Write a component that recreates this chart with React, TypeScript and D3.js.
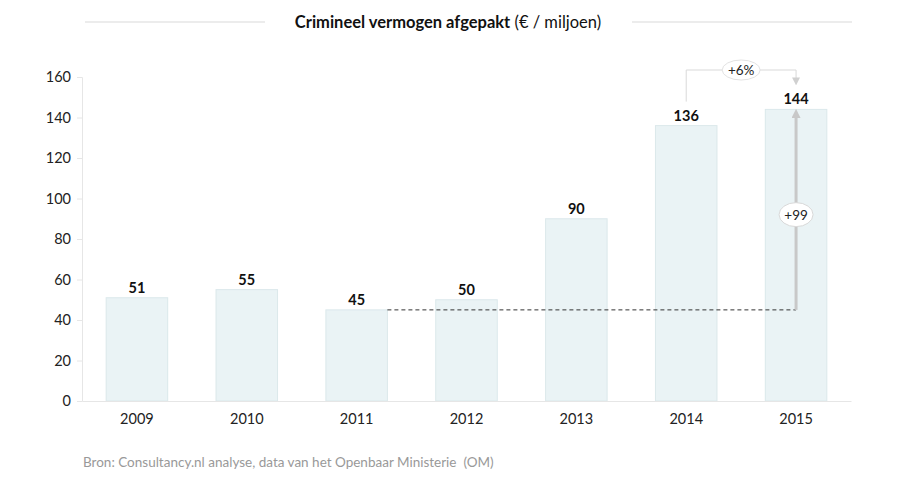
import { useEffect, useRef } from 'react';
import * as d3 from 'd3';

const years = ['2009', '2010', '2011', '2012', '2013', '2014', '2015'];
const values = [51, 55, 45, 50, 90, 136, 144];
const yTicks = [0, 20, 40, 60, 80, 100, 120, 140, 160];

const FONT = 'Lato, "Open Sans", sans-serif';

export default function App() {
  const svgRef = useRef<SVGSVGElement>(null);

  useEffect(() => {
    if (!svgRef.current) return;
    const width = 900;
    const height = 486;

    d3.select(svgRef.current).selectAll('*').remove();
    const svg = d3.select(svgRef.current)
      .attr('width', width)
      .attr('height', height)
      .attr('viewBox', `0 0 ${width} ${height}`)
      .style('font-family', FONT);

    const x = d3.scaleBand<string>()
      .domain(years)
      .range([82, 851])
      .paddingInner(0.44)
      .paddingOuter(0.22);

    const y = d3.scaleLinear().domain([0, 160]).range([401, 77]);

    const defs = svg.append('defs');
    defs.append('marker')
      .attr('id', 'arrow')
      .attr('viewBox', '0 0 10 10')
      .attr('refX', 5)
      .attr('refY', 5)
      .attr('markerWidth', 3)
      .attr('markerHeight', 3)
      .attr('orient', 'auto-start-reverse')
      .append('path')
      .attr('d', 'M0,0 L10,5 L0,10 z')
      .attr('fill', '#c8c8c8');
    defs.append('marker')
      .attr('id', 'arrowSmall')
      .attr('viewBox', '0 0 10 10')
      .attr('refX', 5)
      .attr('refY', 5)
      .attr('markerWidth', 8)
      .attr('markerHeight', 8)
      .attr('orient', 'auto')
      .append('path')
      .attr('d', 'M0,0 L10,5 L0,10 z')
      .attr('fill', '#d0d0d0');

    // title
    svg.append('line').attr('x1', 85).attr('x2', 265).attr('y1', 22).attr('y2', 22)
      .attr('stroke', '#d9d9d9').attr('stroke-width', 1);
    svg.append('line').attr('x1', 632).attr('x2', 852).attr('y1', 22).attr('y2', 22)
      .attr('stroke', '#d9d9d9').attr('stroke-width', 1);
    const title = svg.append('text')
      .attr('x', 448)
      .attr('y', 28)
      .attr('text-anchor', 'middle')
      .attr('font-size', 16.5)
      .attr('fill', '#111');
    title.append('tspan').attr('font-weight', 'bold').text('Crimineel vermogen afgepakt');
    title.append('tspan').text(' (€ / miljoen)');

    // y axis
    const yAxis = svg.append('g')
      .attr('transform', `translate(82,0)`)
      .call(d3.axisLeft(y).tickValues(yTicks).tickSize(5).tickPadding(6));
    yAxis.select('.domain').attr('stroke', '#e6e6e6');
    yAxis.selectAll('.tick line').attr('stroke', '#e6e6e6');
    yAxis.selectAll('.tick text')
      .attr('font-size', 14.5)
      .attr('font-family', FONT)
      .attr('fill', '#222');

    // bars
    svg.append('g')
      .selectAll('rect')
      .data(values)
      .enter()
      .append('rect')
      .attr('x', (_, i) => x(years[i])!)
      .attr('y', (d) => y(d))
      .attr('width', x.bandwidth())
      .attr('height', (d) => y(0) - y(d))
      .attr('fill', '#eaf3f5')
      .attr('stroke', '#dbe8eb')
      .attr('stroke-width', 1);

    // x axis
    const xAxis = svg.append('g')
      .attr('transform', `translate(0,${y(0)})`)
      .call(d3.axisBottom(x).tickSize(0).tickPadding(13));
    xAxis.select('.domain').attr('stroke', '#e6e6e6');
    xAxis.selectAll('.tick text')
      .attr('font-size', 14.5)
      .attr('font-family', FONT)
      .attr('fill', '#222');

    // value labels
    svg.append('g')
      .selectAll('text')
      .data(values)
      .enter()
      .append('text')
      .attr('x', (_, i) => x(years[i])! + x.bandwidth() / 2)
      .attr('y', (d) => y(d) - 5)
      .attr('text-anchor', 'middle')
      .attr('font-size', 14.5)
      .attr('font-weight', 'bold')
      .attr('fill', '#111')
      .text((d) => d);

    // dashed baseline from 2011 to 2015
    const i11 = 2;
    const i15 = 6;
    const i14 = 5;
    const cx15 = x(years[i15])! + x.bandwidth() / 2;
    const cx14 = x(years[i14])! + x.bandwidth() / 2;
    svg.append('line')
      .attr('x1', x(years[i11])! + x.bandwidth())
      .attr('x2', cx15)
      .attr('y1', y(values[i11]))
      .attr('y2', y(values[i11]))
      .attr('stroke', '#333')
      .attr('stroke-width', 1)
      .attr('stroke-dasharray', '4,3');

    // vertical difference arrow
    svg.append('line')
      .attr('x1', cx15)
      .attr('x2', cx15)
      .attr('y1', y(values[i11]))
      .attr('y2', y(values[i15]) + 4)
      .attr('stroke', '#c8c8c8')
      .attr('stroke-width', 3)
      .attr('marker-end', 'url(#arrow)');
    const midY = (y(values[i11]) + y(values[i15])) / 2 + 5;
    svg.append('ellipse')
      .attr('cx', cx15)
      .attr('cy', midY)
      .attr('rx', 17)
      .attr('ry', 12)
      .attr('fill', '#fff')
      .attr('stroke', '#d9d9d9');
    svg.append('text')
      .attr('x', cx15)
      .attr('y', midY + 5)
      .attr('text-anchor', 'middle')
      .attr('font-size', 13.5)
      .attr('fill', '#222')
      .text(`+${values[i15] - values[i11]}`);

    // +6% bracket
    const topY = 70;
    svg.append('path')
      .attr('d', `M${cx14},${y(values[i14]) - 24} V${topY} H${cx15} V${y(values[i15]) - 28}`)
      .attr('fill', 'none')
      .attr('stroke', '#d9d9d9')
      .attr('stroke-width', 1)
      .attr('marker-end', 'url(#arrowSmall)');
    const pct = Math.round((values[i15] / values[i14] - 1) * 100);
    svg.append('ellipse')
      .attr('cx', (cx14 + cx15) / 2)
      .attr('cy', topY)
      .attr('rx', 19)
      .attr('ry', 10)
      .attr('fill', '#fff')
      .attr('stroke', '#e3e3e3');
    svg.append('text')
      .attr('x', (cx14 + cx15) / 2)
      .attr('y', topY + 5)
      .attr('text-anchor', 'middle')
      .attr('font-size', 13.5)
      .attr('fill', '#222')
      .text(`+${pct}%`);

    // source
    svg.append('text')
      .attr('x', 83)
      .attr('y', 467)
      .attr('font-size', 13.5)
      .attr('fill', '#999')
      .attr('xml:space', 'preserve')
      .style('white-space', 'pre')
      .text('Bron: Consultancy.nl analyse, data van het Openbaar Ministerie  (OM)');
  }, []);

  return <svg ref={svgRef} style={{ display: 'block', position: 'absolute', left: 0, top: 0 }} />;
}
